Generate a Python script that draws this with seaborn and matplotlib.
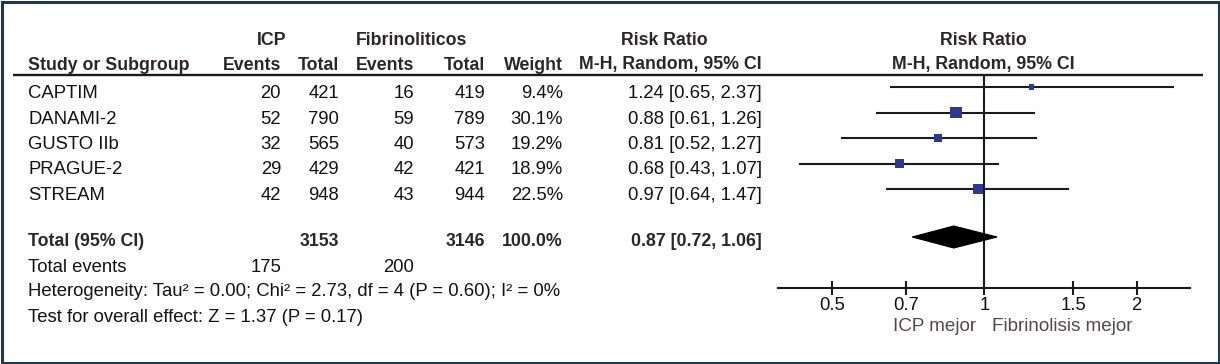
import numpy as np
import pandas as pd
import matplotlib.pyplot as plt
import seaborn as sns
from matplotlib.patches import Rectangle, Polygon

# 데이터
studies = ['CAPTIM', 'DANAMI-2', 'GUSTO IIb', 'PRAGUE-2', 'STREAM']
icp_events = [20, 52, 32, 29, 42]
icp_total = [421, 790, 565, 429, 948]
fib_events = [16, 59, 40, 42, 43]
fib_total = [419, 789, 573, 421, 944]
weight = [9.4, 30.1, 19.2, 18.9, 22.5]
rr = [1.24, 0.88, 0.81, 0.68, 0.97]
rr_lo = [0.65, 0.61, 0.52, 0.43, 0.64]
rr_hi = [2.37, 1.26, 1.27, 1.07, 1.47]

total_icp = 3153
total_fib = 3146
total_weight = 100.0
total_rr, total_lo, total_hi = 0.87, 0.72, 1.06
events_icp_sum = 175
events_fib_sum = 200

het_text = 'Heterogeneity: Tau² = 0.00; Chi² = 2.73, df = 4 (P = 0.60); I² = 0%'
test_text = 'Test for overall effect: Z = 1.37 (P = 0.17)'

ticks = [0.5, 0.7, 1, 1.5, 2]
tick_labels = ['0.5', '0.7', '1', '1.5', '2']

sns.set_theme(style='white')
plt.rcParams['font.family'] = ['Liberation Sans', 'DejaVu Sans']

W, H = 1220, 364
fig = plt.figure(figsize=(W / 100, H / 100), dpi=100)

# 표 영역 (픽셀 좌표)
tab = fig.add_axes([0, 0, 1, 1])
tab.set_xlim(0, W)
tab.set_ylim(H, 0)
tab.axis('off')

fs = 13.3    # 일반 글자
fb = 12.8    # 굵은 글자
txt = '#121212'
hdr = '#2b2727'
lc = '#1a1a1a'

# 헤더
tab.text(272, 45, 'ICP', ha='center', fontsize=fb, fontweight='bold', color=hdr)
tab.text(412, 45, 'Fibrinoliticos', ha='center', fontsize=fb, fontweight='bold', color=hdr)
tab.text(664, 45, 'Risk Ratio', ha='center', fontsize=fb, fontweight='bold', color=hdr)
tab.text(983, 45, 'Risk Ratio', ha='center', fontsize=fb, fontweight='bold', color=hdr)

tab.text(28, 69.5, 'Study or Subgroup', ha='left', fontsize=fb, fontweight='bold', color=hdr)
cols_r = [281, 339, 414, 485, 563]
for x, s in zip(cols_r, ['Events', 'Total', 'Events', 'Total', 'Weight']):
    tab.text(x, 69.5, s, ha='right', fontsize=fb, fontweight='bold', color=hdr)
tab.text(762, 69.5, 'M-H, Random, 95% CI', ha='right', fontsize=fb, fontweight='bold', color=hdr)
tab.text(983, 69.5, 'M-H, Random, 95% CI', ha='center', fontsize=fb, fontweight='bold', color=hdr)

tab.plot([13, 1203], [74.5, 74.5], color=lc, lw=1.7, solid_capstyle='butt')

# 연구별 행
row_y = [87 + 25.5 * i for i in range(len(studies))]
for i, y in enumerate(row_y):
    b = y + 11
    tab.text(28, b, studies[i], ha='left', fontsize=fs, color=txt)
    vals = [icp_events[i], icp_total[i], fib_events[i], fib_total[i], f'{weight[i]:.1f}%']
    for x, v in zip(cols_r, vals):
        tab.text(x, b, str(v), ha='right', fontsize=fs, color=txt)
    tab.text(762, b, f'{rr[i]:.2f} [{rr_lo[i]:.2f}, {rr_hi[i]:.2f}]', ha='right', fontsize=fs, color=txt)

# 합계 행
tot_y = 237
tab.text(28, 245.5, 'Total (95% CI)', ha='left', fontsize=fb, fontweight='bold', color=hdr)
tab.text(cols_r[1], 245.5, str(total_icp), ha='right', fontsize=fb, fontweight='bold', color=hdr)
tab.text(cols_r[3], 245.5, str(total_fib), ha='right', fontsize=fb, fontweight='bold', color=hdr)
tab.text(cols_r[4], 245.5, f'{total_weight:.1f}%', ha='right', fontsize=fb, fontweight='bold', color=hdr)
tab.text(762, 245.5, f'{total_rr:.2f} [{total_lo:.2f}, {total_hi:.2f}]', ha='right',
         fontsize=fb, fontweight='bold', color=hdr)

tab.text(28, 272.5, 'Total events', ha='left', fontsize=fs, color=txt)
tab.text(cols_r[0], 272.5, str(events_icp_sum), ha='right', fontsize=fs, color=txt)
tab.text(cols_r[2], 272.5, str(events_fib_sum), ha='right', fontsize=fs, color=txt)
tab.text(28, 296.5, het_text, ha='left', fontsize=fs, color=txt)
tab.text(28, 321.5, test_text, ha='left', fontsize=fs, color=txt)

tab.text(976, 331, 'ICP mejor', ha='right', fontsize=13.6, color='#54474d')
tab.text(992, 331, 'Fibrinolisis mejor', ha='left', fontsize=13.6, color='#54474d')

# 테두리
tab.add_patch(Rectangle((1.5, 1.5), W - 3, H - 3, fill=False, edgecolor='#1d3957', lw=2.2))

# 포레스트 플롯 영역
x0, x1, y_top, y_axis = 778, 1190, 74.5, 287.7
ax = fig.add_axes([x0 / W, (H - y_axis) / H, (x1 - x0) / W, (y_axis - y_top) / H])
ax.set_facecolor('none')
ax.set_xscale('log')
ax.set_xlim(0.391, 2.55)
ax.set_ylim(y_axis, y_top)

df = pd.DataFrame({'rr': rr, 'lo': rr_lo, 'hi': rr_hi, 'weight': weight, 'y': row_y})
ax.hlines(df['y'], df['lo'], df['hi'], color=lc, lw=1.5, zorder=2)
sns.scatterplot(data=df, x='rr', y='y', size='weight', sizes=(15, 70), marker='s',
                color='#2b3990', edgecolor='none', legend=False, ax=ax, zorder=3)

half = 11
ax.add_patch(Polygon([[total_lo, tot_y], [total_rr, tot_y - half],
                      [total_hi, tot_y], [total_rr, tot_y + half]],
                     closed=True, facecolor='black', edgecolor='black', lw=0.8, zorder=3))

ax.axvline(1, color=lc, lw=1.5, zorder=1)

for s in ['top', 'left', 'right']:
    ax.spines[s].set_visible(False)
ax.spines['bottom'].set_color(lc)
ax.spines['bottom'].set_linewidth(1.5)
ax.set_xticks(ticks)
ax.set_xticklabels(tick_labels)
ax.xaxis.set_minor_locator(plt.NullLocator())
ax.tick_params(axis='x', direction='inout', length=9.5, width=1.5, color=lc,
               labelsize=fs, labelcolor=txt, pad=2, bottom=True)
ax.set_yticks([])
ax.set_xlabel('')
ax.set_ylabel('')

fig.savefig('out.png', dpi=100)
